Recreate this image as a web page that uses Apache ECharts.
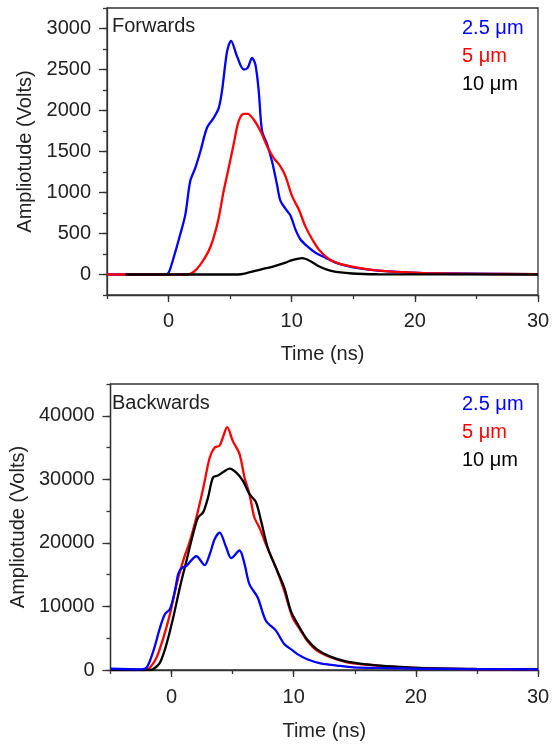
<!DOCTYPE html>
<html>
<head>
<meta charset="utf-8">
<script src="https://cdn.jsdelivr.net/npm/echarts@6/dist/echarts.min.js"></script>
<style>
  html, body { margin: 0; padding: 0; background: #fff; }
  #chart { width: 553px; height: 749px; }
</style>
</head>
<body>
<div id="chart"></div>
<script>
// series names / colours
const seriesNames = ['2.5 μm', '5 μm', '10 μm'];
const seriesColors = ['#0000ff', '#ff0000', '#000000'];

// Forwards (top panel): time in ns, amplitude in volts
const fwdBlueT = [-5, -2, -0.3, 0, 0.4, 0.95, 1.36, 1.76, 2.17, 2.58, 3.12, 3.66, 4.07, 4.34, 4.75, 5.07, 5.56, 6.1, 6.42, 6.78, 7.05, 7.32, 7.59, 8.0, 8.4, 8.8, 9.08, 9.5, 9.9, 10.3, 10.7, 11.25, 11.93, 12.74, 13.55, 14.9, 16.3, 17.6, 19, 21, 25, 30];
const fwdBlueV = [0, 0, 0, 20, 200, 490, 730, 1140, 1300, 1500, 1790, 1910, 2030, 2240, 2720, 2850, 2660, 2500, 2520, 2640, 2560, 2240, 1750, 1590, 1380, 1100, 900, 800, 720, 550, 430, 345, 265, 205, 145, 90, 60, 40, 28, 16, 10, 5];
const fwdRedT = [-5, 1.5, 2.03, 2.58, 3.25, 3.66, 4.07, 4.47, 4.88, 5.28, 5.69, 6.1, 6.42, 6.91, 7.46, 8.0, 8.54, 9.08, 9.49, 10.03, 10.57, 11.1, 11.66, 12.2, 13.0, 13.8, 14.9, 16.3, 17.6, 19, 21, 25, 30];
const fwdRedV = [0, 0, 30, 120, 285, 450, 690, 1015, 1300, 1585, 1870, 1960, 1960, 1890, 1750, 1565, 1420, 1320, 1200, 955, 795, 590, 430, 305, 190, 135, 95, 60, 40, 28, 15, 8, 5];
const fwdBlackT = [-3.5, 5.5, 6.4, 7.46, 8.54, 9.5, 10.03, 10.85, 11.5, 12.2, 13.3, 14.9, 17, 30];
const fwdBlackV = [0, 0, 20, 60, 100, 145, 175, 200, 165, 100, 40, 12, 3, 0];

// Backwards (bottom panel)
const bwdBlueT = [-5, -2.5, -2.03, -1.49, -0.94, -0.54, -0.13, 0.28, 0.54, 0.81, 1.22, 2.03, 2.71, 3.12, 3.53, 3.93, 4.47, 4.88, 5.56, 5.97, 6.37, 7.05, 7.72, 8.54, 9.22, 9.9, 10.3, 11.1, 12.2, 13.55, 14.9, 17.6, 20.3, 25, 30];
const bwdBlueV = [200, 100, 400, 3000, 6700, 8800, 9600, 12500, 15100, 16000, 16400, 17900, 16500, 18200, 20600, 21600, 19300, 17600, 18800, 16700, 13500, 11400, 7750, 6200, 4100, 3100, 2500, 1700, 1050, 700, 420, 300, 200, 150, 100];
const bwdRedT = [-5, -2.2, -1.76, -1.22, -0.67, -0.13, 0.41, 0.95, 1.5, 2.03, 2.58, 3.12, 3.53, 3.93, 4.2, 4.55, 5.02, 5.56, 5.97, 6.37, 6.78, 7.19, 7.72, 8.54, 9.22, 9.9, 10.57, 11.1, 11.93, 13.0, 14.37, 16, 17.6, 20.3, 25, 30];
const bwdRedV = [0, 0, 400, 2000, 5100, 8800, 13500, 17200, 20300, 24000, 28500, 33400, 35000, 35300, 36600, 38200, 36000, 34000, 30300, 27700, 24000, 22400, 19800, 16100, 12500, 8300, 6200, 4600, 3000, 2000, 1200, 830, 570, 310, 150, 100];
const bwdBlackT = [-5, -1.8, -1.49, -0.94, -0.41, 0.14, 0.68, 1.22, 1.76, 2.17, 2.58, 2.98, 3.39, 3.8, 4.2, 4.75, 5.28, 5.83, 6.37, 6.91, 7.32, 7.86, 8.54, 9.22, 9.76, 10.3, 11.1, 11.93, 13.0, 14.37, 16, 17.6, 20.3, 25, 30];
const bwdBlackV = [0, 0, 150, 1200, 4100, 8300, 13000, 17200, 21400, 24000, 24800, 27100, 30300, 30600, 31100, 31700, 31100, 29800, 27700, 26400, 23500, 19300, 16100, 13000, 9300, 7300, 4800, 3200, 2100, 1300, 880, 600, 330, 160, 100];

// axis ticks
const timeMajor = [0, 10, 20, 30];
const fwdMajor = [0, 500, 1000, 1500, 2000, 2500, 3000];
const bwdMajor = [0, 10000, 20000, 30000, 40000];

const font = 'Liberation Sans, Arial, sans-serif';
const ink = '#222';
const axisColor = '#333';

const pairs = (t, v) => t.map((x, i) => [x, v[i]]);

function xAxes(gridIndex, labelMargin, nameGap) {
    return [{
        type: 'value', gridIndex, position: 'bottom',
        min: -5, max: 30, interval: 5,
        name: 'Time (ns)', nameLocation: 'middle', nameGap,
        nameTextStyle: { fontFamily: font, fontSize: 20, color: ink },
        axisLine: { onZero: false, lineStyle: { color: axisColor, width: 1.3 } },
        axisTick: { inside: false, length: 4, lineStyle: { color: axisColor, width: 1.3 } },
        axisLabel: {
            margin: labelMargin, fontFamily: font, fontSize: 20, color: ink,
            formatter: v => (v % 10 === 0 ? String(v) : '')
        },
        splitLine: { show: false }
    }, {
        type: 'value', gridIndex, position: 'bottom',
        min: -5, max: 30,
        axisLine: { show: false, onZero: false },
        axisTick: { customValues: timeMajor, length: 7, lineStyle: { color: axisColor, width: 1.3 } },
        axisLabel: { show: false },
        splitLine: { show: false }
    }];
}

function yAxes(gridIndex, min, max, step, labelStep, major, nameGap) {
    return [{
        type: 'value', gridIndex, position: 'left',
        min, max, interval: step,
        name: 'Ampliotude (Volts)', nameLocation: 'middle', nameGap,
        nameTextStyle: { fontFamily: font, fontSize: 20, color: ink },
        axisLine: { show: true, onZero: false, lineStyle: { color: axisColor, width: 1.3 } },
        axisTick: { show: true, inside: false, length: 4, lineStyle: { color: axisColor, width: 1.3 } },
        axisLabel: {
            margin: 16, fontFamily: font, fontSize: 20, color: ink,
            formatter: v => (v % labelStep === 0 ? String(v) : '')
        },
        splitLine: { show: false }
    }, {
        type: 'value', gridIndex, position: 'left',
        min, max,
        axisLine: { show: false, onZero: false },
        axisTick: { show: true, customValues: major, length: 8, lineStyle: { color: axisColor, width: 1.3 } },
        axisLabel: { show: false },
        splitLine: { show: false }
    }];
}

function line(name, color, data, xi, yi) {
    return {
        name, type: 'line', xAxisIndex: xi, yAxisIndex: yi,
        data, showSymbol: false, smooth: 0.3,
        lineStyle: { color, width: 2.3 }, itemStyle: { color }
    };
}

const legendItems = seriesNames.map((n, i) => ({ name: n, textStyle: { color: seriesColors[i] } }));
function legend(top) {
    return {
        orient: 'vertical', left: 452, top, icon: 'none',
        itemWidth: 0, itemHeight: 14, itemGap: 8, selectedMode: false,
        textStyle: { fontFamily: font, fontSize: 20, lineHeight: 20 },
        data: legendItems
    };
}

const chart = echarts.init(document.getElementById('chart'));
chart.setOption({
    animation: false,
    backgroundColor: '#fff',
    grid: [
        { left: 107, top: 8, width: 431, height: 287, show: true, borderColor: axisColor, borderWidth: 1.3 },
        { left: 107, top: 384, width: 431, height: 286, show: true, borderColor: axisColor, borderWidth: 1.3 }
    ],
    xAxis: [...xAxes(0, 16, 49), ...xAxes(1, 17, 51)],
    yAxis: [
        ...yAxes(0, -250, 3250, 250, 500, fwdMajor, 60),
        ...yAxes(1, 0, 45000, 5000, 10000, bwdMajor, 78)
    ],
    legend: [legend(13), legend(389)],
    graphic: [
        { type: 'text', left: 112, top: 16, style: { text: 'Forwards', fontFamily: font, fontSize: 20, fill: ink } },
        { type: 'text', left: 112, top: 393, style: { text: 'Backwards', fontFamily: font, fontSize: 20, fill: ink } }
    ],
    series: [
        line(seriesNames[0], seriesColors[0], pairs(fwdBlueT, fwdBlueV), 0, 0),
        line(seriesNames[1], seriesColors[1], pairs(fwdRedT, fwdRedV), 0, 0),
        line(seriesNames[2], seriesColors[2], pairs(fwdBlackT, fwdBlackV), 0, 0),
        line(seriesNames[1], seriesColors[1], pairs(bwdRedT, bwdRedV), 2, 2),
        line(seriesNames[2], seriesColors[2], pairs(bwdBlackT, bwdBlackV), 2, 2),
        line(seriesNames[0], seriesColors[0], pairs(bwdBlueT, bwdBlueV), 2, 2)
    ]
});
window.addEventListener('resize', () => chart.resize());
</script>
</body>
</html>
